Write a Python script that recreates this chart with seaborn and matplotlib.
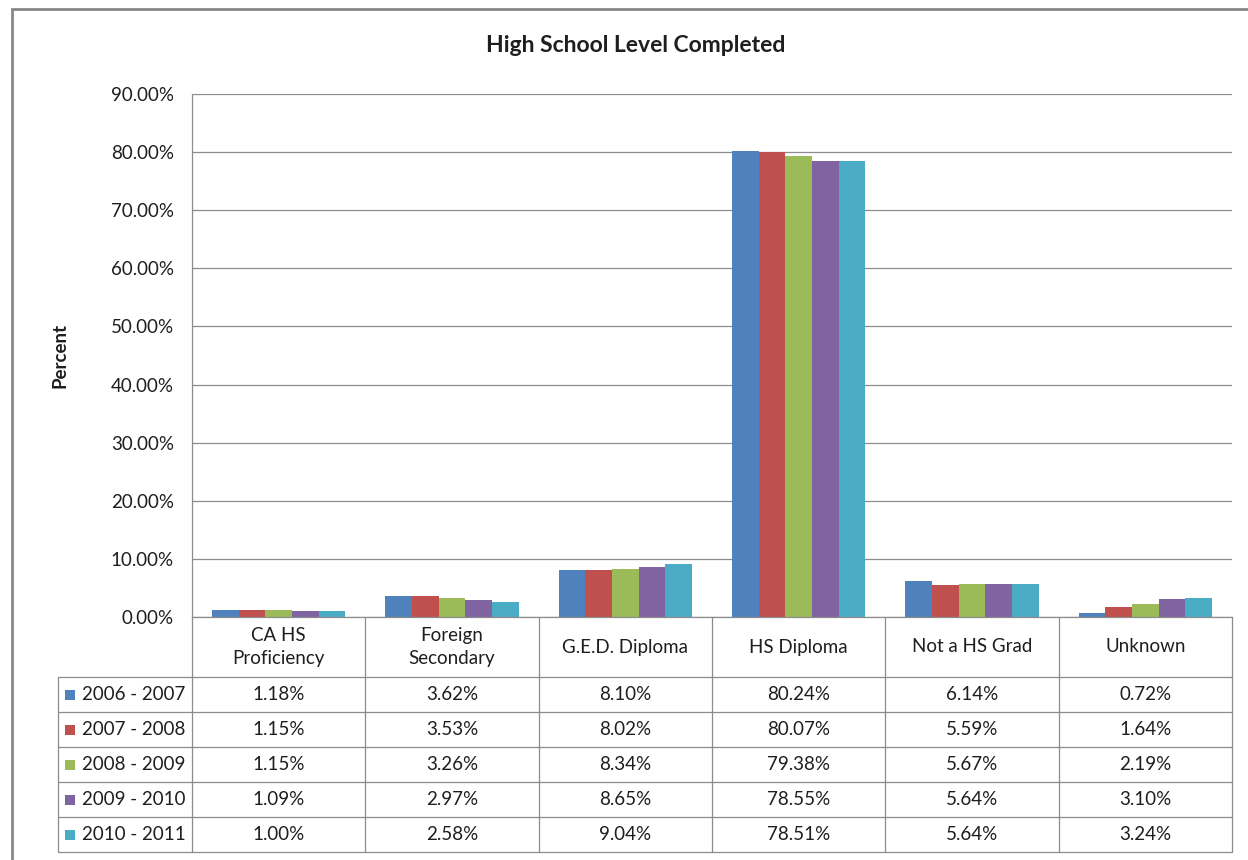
import matplotlib
matplotlib.use("Agg")
import matplotlib.pyplot as plt
from matplotlib.lines import Line2D
from matplotlib.patches import Rectangle
from matplotlib.ticker import FuncFormatter, MultipleLocator
from matplotlib.transforms import blended_transform_factory
import pandas as pd
import seaborn as sns

# ---- data -------------------------------------------------------------
categories = ["CA HS\nProficiency", "Foreign\nSecondary", "G.E.D. Diploma",
              "HS Diploma", "Not a HS Grad", "Unknown"]
periods = ["2006 - 2007", "2007 - 2008", "2008 - 2009", "2009 - 2010", "2010 - 2011"]

pct_2006_2007 = [1.18, 3.62, 8.10, 80.24, 6.14, 0.72]
pct_2007_2008 = [1.15, 3.53, 8.02, 80.07, 5.59, 1.64]
pct_2008_2009 = [1.15, 3.26, 8.34, 79.38, 5.67, 2.19]
pct_2009_2010 = [1.09, 2.97, 8.65, 78.55, 5.64, 3.10]
pct_2010_2011 = [1.00, 2.58, 9.04, 78.51, 5.64, 3.24]

series = [pct_2006_2007, pct_2007_2008, pct_2008_2009, pct_2009_2010, pct_2010_2011]
colors = ["#4F81BD", "#C0504D", "#9BBB59", "#8064A2", "#4BACC6"]

df = pd.DataFrame(
    [(c, p, v) for p, vals in zip(periods, series) for c, v in zip(categories, vals)],
    columns=["category", "period", "value"],
)

# ---- style ------------------------------------------------------------
sns.set_style("white")
plt.rcParams["font.family"] = ["Lato", "DejaVu Sans"]
TEXT = "#1E1E1E"
LINE = "#8C8C8C"
FS = 13.5

W, H = 1248, 860
fig = plt.figure(figsize=(W / 100, H / 100), dpi=100)
fig.patch.set_facecolor("white")


def fx(x):
    return x / W


def fy(y):
    return 1 - y / H


# plot area in pixels
PL, PR, PT, PB = 192, 1232, 94, 617
ax = fig.add_axes([fx(PL), fy(PB), fx(PR - PL), (PB - PT) / H])

sns.barplot(data=df, x="category", y="value", hue="period", order=categories,
            hue_order=periods, palette=colors, width=0.77, saturation=1,
            legend=False, ax=ax, edgecolor="none", linewidth=0)

ax.set_xlim(-0.5, len(categories) - 0.5)
ax.set_ylim(0, 90)
ax.yaxis.set_major_locator(MultipleLocator(10))
ax.yaxis.set_major_formatter(FuncFormatter(lambda v, _: f"{v:.2f}%"))
ax.grid(axis="y", color=LINE, linewidth=0.9)
ax.set_axisbelow(True)
ax.tick_params(axis="y", length=0, pad=13, labelsize=FS, labelcolor=TEXT)
ax.tick_params(axis="x", length=0, labelbottom=False)
ax.set_xlabel("")
ax.set_ylabel("")
for side in ["top", "right"]:
    ax.spines[side].set_visible(False)
for side in ["left", "bottom"]:
    ax.spines[side].set_color(LINE)
    ax.spines[side].set_linewidth(0.9)

# titles
fig.text(fx(636), fy(46), "High School Level Completed", ha="center", va="center",
         fontsize=16.5, fontweight="bold", color=TEXT)
fig.text(fx(60), fy(355), "Percent", ha="center", va="center", rotation=90,
         fontsize=13.5, fontweight="bold", color=TEXT)

# ---- data table beneath the axis --------------------------------------
tr = blended_transform_factory(ax.transData, fig.transFigure)
HEADER_BOTTOM = 677
ROW_H = 35
TABLE_BOTTOM = HEADER_BOTTOM + ROW_H * len(periods)
LEG_LEFT = 58
lw = 0.9

# column separators
for i in range(len(categories) + 1):
    fig.add_artist(Line2D([i - 0.5, i - 0.5], [fy(PB), fy(TABLE_BOTTOM)],
                          transform=tr, color=LINE, lw=lw))
# row separators spanning legend column and data columns
for r in range(len(periods) + 1):
    y = HEADER_BOTTOM + r * ROW_H
    fig.add_artist(Line2D([fx(LEG_LEFT), fx(PR)], [fy(y), fy(y)],
                          transform=fig.transFigure, color=LINE, lw=lw))
fig.add_artist(Line2D([fx(LEG_LEFT), fx(LEG_LEFT)], [fy(HEADER_BOTTOM), fy(TABLE_BOTTOM)],
                      transform=fig.transFigure, color=LINE, lw=lw))

# category headers
for i, cat in enumerate(categories):
    fig.text(i, fy((PB + HEADER_BOTTOM) / 2), cat, transform=tr, ha="center",
             va="center", fontsize=FS, color=TEXT, linespacing=1.45)

# legend keys and value cells
for r, (period, vals, col) in enumerate(zip(periods, series, colors)):
    yc = HEADER_BOTTOM + r * ROW_H + ROW_H / 2
    fig.add_artist(Rectangle((fx(65), fy(yc + 5)), fx(10), 10 / H,
                             transform=fig.transFigure, facecolor=col, edgecolor="none"))
    fig.text(fx(82), fy(yc), period, ha="left", va="center", fontsize=FS, color=TEXT)
    for i, v in enumerate(vals):
        fig.text(i, fy(yc), f"{v:.2f}%", transform=tr, ha="center", va="center",
                 fontsize=FS, color=TEXT)

# chart frame
fig.add_artist(Rectangle((fx(12), fy(880)), fx(1260), (880 - 9) / H,
                         transform=fig.transFigure, facecolor="none",
                         edgecolor="#878787", lw=2.0))

fig.savefig("out.png", dpi=100, facecolor="white")
